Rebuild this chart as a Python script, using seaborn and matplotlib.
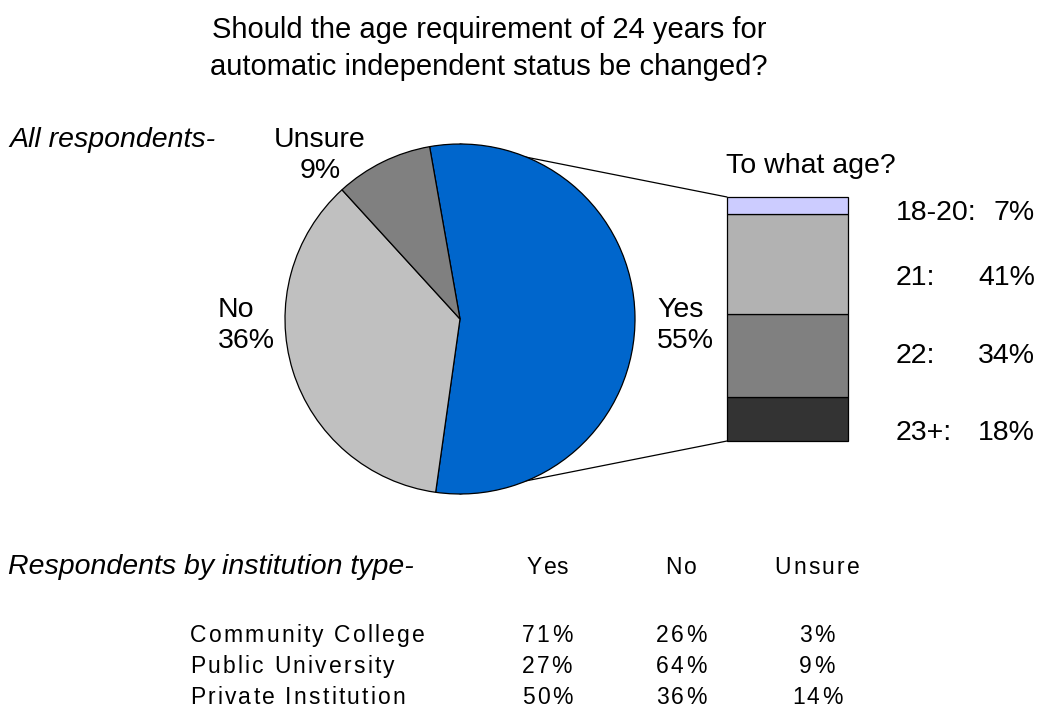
import matplotlib
matplotlib.use("Agg")
import matplotlib.pyplot as plt
from matplotlib.font_manager import FontProperties
import seaborn as sns

# ---- data ----
pie_labels = ["Yes", "No", "Unsure"]
pie_values = [55, 36, 9]
pie_colors = ["#0066CC", "#C0C0C0", "#808080"]

age_labels = ["23+:", "22:", "21:", "18-20:"]
age_values = [18, 34, 41, 7]
age_colors = ["#333333", "#808080", "#B2B2B2", "#CCCCFF"]

inst_types = ["Community College", "Public University", "Private Institution"]
inst_cols = ["Yes", "No", "Unsure"]
inst_yes = [71, 27, 50]
inst_no = [26, 64, 36]
inst_unsure = [3, 9, 14]

sns.set_theme(style="white", rc={"text.color": "black"})
plt.rcParams["font.family"] = ["Liberation Sans", "DejaVu Sans"]

W, H = 1042, 708
fig = plt.figure(figsize=(W / 100, H / 100), dpi=100)
ax = fig.add_axes([0, 0, 1, 1])

def Y(py):
    return H - py

# pie
cx, cy, r = 460, 319, 175
ax.pie(pie_values, colors=pie_colors, startangle=100, counterclock=False,
       center=(cx, Y(cy)), radius=r, frame=True,
       wedgeprops=dict(edgecolor="black", linewidth=0.9))
ax.set_xlim(0, W)
ax.set_ylim(0, H)
ax.set_aspect("equal")
ax.axis("off")

# stacked bar
bx, bw = 787.5, 121
btop, bbot = 197, 441
scale = (bbot - btop) / sum(age_values)
bottom = Y(bbot)
for lab, v, c in zip(age_labels, age_values, age_colors):
    ax.bar(bx, v * scale, width=bw, bottom=bottom, color=c,
           edgecolor="black", linewidth=0.9, zorder=3)
    bottom += v * scale

# connector lines (behind pie)
ax.plot([cx, bx - bw / 2], [Y(cy - r), Y(btop)], color="black", lw=0.9, zorder=0.5)
ax.plot([cx, bx - bw / 2], [Y(cy + r), Y(bbot)], color="black", lw=0.9, zorder=0.5)

fs = 20.5
def txt(x, y, s, ha="left", size=fs, **kw):
    ax.text(x, Y(y), s, ha=ha, va="baseline", fontsize=size, color="black", **kw)

# title
txt(489, 38, "Should the age requirement of 24 years for", ha="center", size=21)
txt(489, 75, "automatic independent status be changed?", ha="center", size=21)
txt(9, 147, "All respondents-", style="italic")
txt(320, 147, "Unsure", ha="center")
txt(320, 178, f"{pie_values[2]}%", ha="center")
txt(218, 317, "No")
txt(218, 348, f"{pie_values[1]}%")
txt(657, 317, "Yes")
txt(657, 348, f"{pie_values[0]}%")
txt(726, 173, "To what age?")

label_base = {"18-20:": 220, "21:": 285, "22:": 363, "23+:": 440}
for lab, v in zip(age_labels, age_values):
    txt(896, label_base[lab], lab)
    txt(1035, label_base[lab], f"{v}%", ha="right")

# table with letter-spaced text
renderer = fig.canvas.get_renderer()
tprop = FontProperties(family="Liberation Sans", size=16.5)
ref_w = renderer.get_text_width_height_descent("|", tprop, ismath=False)[0]

def width(s):
    if not s:
        return 0.0
    return renderer.get_text_width_height_descent(s + "|", tprop, ismath=False)[0] - ref_w

def tracked(x, y, s, track=2.2, ha="left"):
    adv = [width(s[:i]) for i in range(len(s) + 1)]
    total = adv[-1] + track * (len(s) - 1)
    x0 = x - total / 2 if ha == "center" else x
    for i, ch in enumerate(s):
        if ch == " ":
            continue
        ax.text(x0 + adv[i] + i * track, Y(y), ch, fontproperties=tprop,
                ha="left", va="baseline", color="black")

txt(8, 574, "Respondents by institution type-", style="italic")
col_x = [547, 681, 817]
for x, c in zip(col_x, inst_cols):
    tracked(x, 574, c, ha="center")
row_base = [642, 673, 704]
for i, name in enumerate(inst_types):
    tracked(190, row_base[i], name)
    for x, vals in zip(col_x, [inst_yes, inst_no, inst_unsure]):
        tracked(x, row_base[i], f"{vals[i]}%", ha="center")

fig.savefig("out.png", dpi=100)
